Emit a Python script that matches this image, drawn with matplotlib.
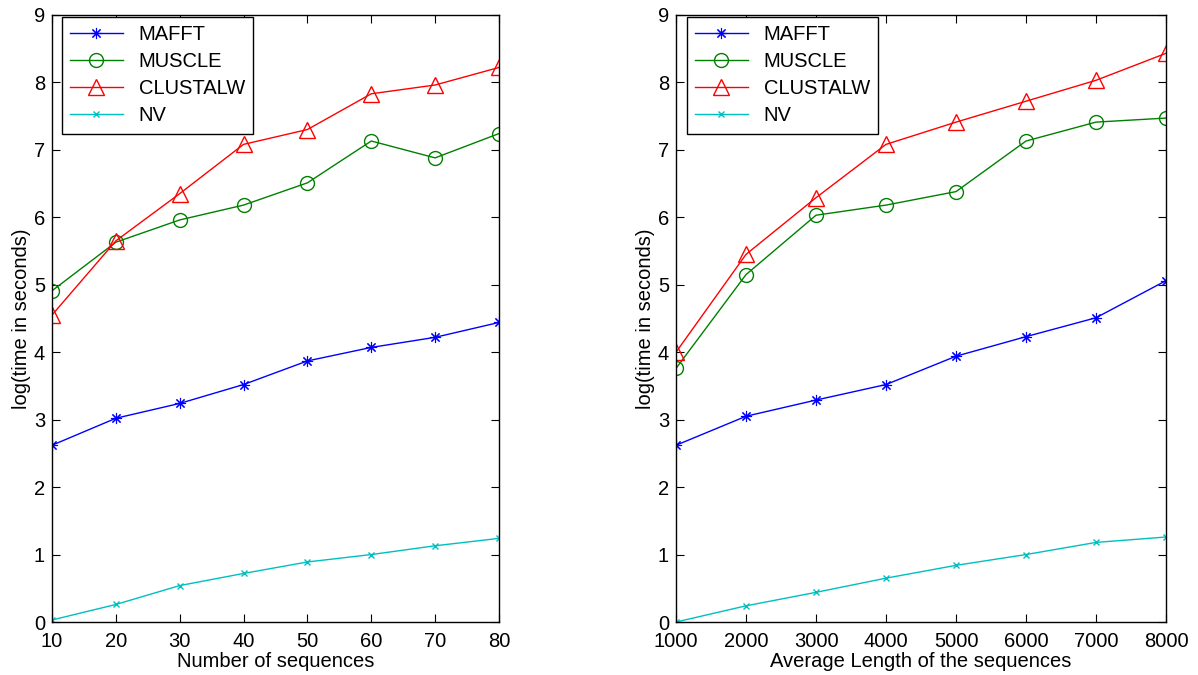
import matplotlib
matplotlib.use("Agg")
import matplotlib.pyplot as plt

plt.rcParams["font.family"] = ["Liberation Sans", "DejaVu Sans"]

# left panel: number of sequences
n_seq = [10, 20, 30, 40, 50, 60, 70, 80]
mafft_n = [2.62, 3.02, 3.24, 3.52, 3.87, 4.07, 4.22, 4.44]
muscle_n = [4.91, 5.63, 5.96, 6.18, 6.51, 7.13, 6.88, 7.24]
clustalw_n = [4.55, 5.65, 6.35, 7.08, 7.30, 7.83, 7.96, 8.22]
nv_n = [0.03, 0.26, 0.54, 0.72, 0.89, 1.00, 1.13, 1.24]

# right panel: average sequence length
avg_len = [1000, 2000, 3000, 4000, 5000, 6000, 7000, 8000]
mafft_l = [2.62, 3.05, 3.29, 3.52, 3.94, 4.23, 4.51, 5.06]
muscle_l = [3.76, 5.15, 6.03, 6.18, 6.38, 7.13, 7.41, 7.47]
clustalw_l = [4.00, 5.45, 6.29, 7.08, 7.41, 7.72, 8.03, 8.43]
nv_l = [0.00, 0.24, 0.44, 0.65, 0.84, 1.00, 1.18, 1.26]

labels = ["MAFFT", "MUSCLE", "CLUSTALW", "NV"]
colors = ["#0000ff", "#008000", "#ff0000", "#00bfbf"]
markers = [(8, 2, 0), "o", "^", "x"]
msizes = [8, 10, 11, 5]
mews = [0.8, 1.0, 1.0, 1.0]

fig = plt.figure(figsize=(11.98, 6.75), dpi=100)
ax1 = fig.add_axes([0.0434, 0.0785, 0.3731, 0.8995])
ax2 = fig.add_axes([0.5643, 0.0785, 0.4090, 0.8995])


def draw(ax, x, series, xlabel):
    for ys, lab, c, m, ms, mw in zip(series, labels, colors, markers, msizes, mews):
        ax.plot(x, ys, color=c, lw=1.0, marker=m, ms=ms, mfc="none",
                mec=c, mew=mw, label=lab)
    ax.set_xlim(x[0], x[-1])
    ax.set_ylim(0, 9)
    ax.set_xticks(x)
    ax.set_yticks(range(10))
    ax.tick_params(direction="in", top=True, right=True, length=6,
                   labelsize=14.5, width=0.8)
    ax.tick_params(axis="x", pad=7)
    ax.tick_params(axis="y", pad=5)
    for s in ax.spines.values():
        s.set_linewidth(1.0)
    ax.set_xlabel(xlabel, fontsize=14.5, labelpad=1)
    ax.set_ylabel("log(time in seconds)", fontsize=14.5, labelpad=2)
    leg = ax.legend(loc="upper left", bbox_to_anchor=(0.022, 0.997),
                    fontsize=14.5, fancybox=False, edgecolor="black",
                    framealpha=1, handlelength=2.6, borderaxespad=0.0,
                    labelspacing=0.40, borderpad=0.42)
    leg.get_frame().set_linewidth(1.0)


draw(ax1, n_seq, [mafft_n, muscle_n, clustalw_n, nv_n], "Number of sequences")
draw(ax2, avg_len, [mafft_l, muscle_l, clustalw_l, nv_l],
     "Average Length of the sequences")

fig.savefig("out.png", dpi=100)
